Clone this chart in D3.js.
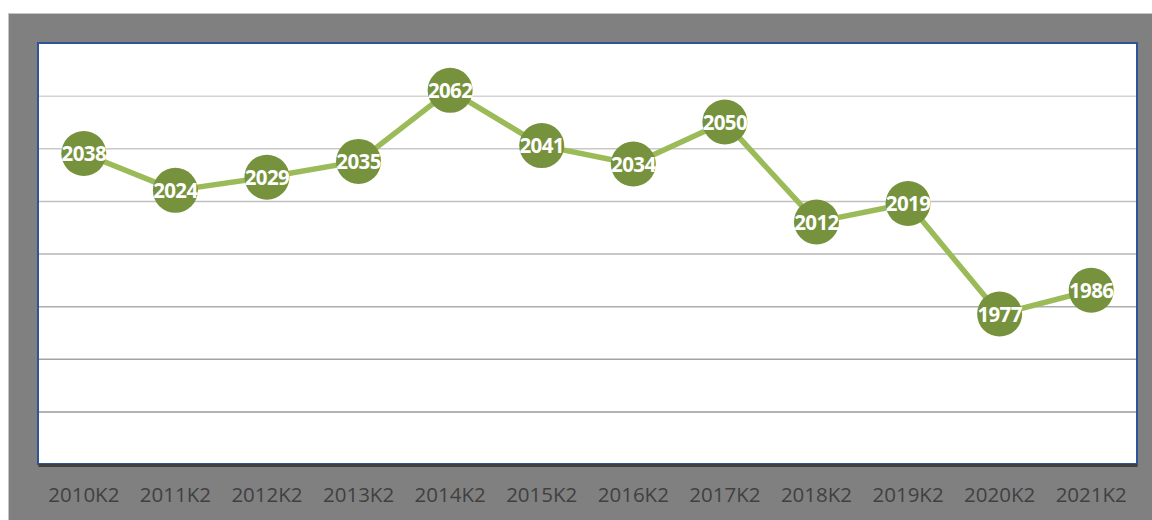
<!DOCTYPE html>
<html>
<head>
<meta charset="utf-8">
<script src="https://cdn.jsdelivr.net/npm/d3@7"></script>
<style>
  body { margin: 0; background: #ffffff; }
  svg { display: block; }
</style>
</head>
<body>
<div id="chart"></div>
<script>
// data
var periods = ["2010K2", "2011K2", "2012K2", "2013K2", "2014K2", "2015K2", "2016K2", "2017K2", "2018K2", "2019K2", "2020K2", "2021K2"];
var values = [2038, 2024, 2029, 2035, 2062, 2041, 2034, 2050, 2012, 2019, 1977, 1986];
var yTicks = [1920, 1940, 1960, 1980, 2000, 2020, 2040, 2060, 2080];

var width = 1152, height = 520;
var plot = { left: 38, top: 43, right: 1137, bottom: 464 };

var svg = d3.select("#chart").append("svg")
    .attr("width", width)
    .attr("height", height);

// gray frame
svg.append("rect")
    .attr("x", 8.5).attr("y", 13.5)
    .attr("width", width).attr("height", height)
    .style("fill", "#808080")
    .style("stroke", "#c4c4c4")
    .style("stroke-width", 1);

var xScale = d3.scaleBand()
    .domain(periods)
    .range([plot.left, plot.right]);

var yScale = d3.scaleLinear()
    .domain([1920, 2080])
    .range([plot.bottom, plot.top]);

// plot area
svg.append("rect")
    .attr("x", plot.left).attr("y", plot.top)
    .attr("width", plot.right - plot.left)
    .attr("height", plot.bottom - plot.top)
    .style("fill", "#ffffff")
    .style("stroke", "#2F5597")
    .style("stroke-width", 2);

// gridlines, lighter at top, darker near the bottom
var gridColor = d3.scaleLinear().domain([2080, 1940]).range(["#dcdcdc", "#9a9a9a"]);
var yAxis = d3.axisLeft(yScale).tickValues(yTicks.slice(1, -1)).tickSize(-(plot.right - plot.left - 2)).tickFormat("");
var grid = svg.append("g")
    .attr("transform", "translate(" + (plot.left + 1) + ",0)")
    .call(yAxis);
grid.select(".domain").remove();
grid.selectAll(".tick line")
    .style("stroke", function (d) { return gridColor(d); })
    .style("stroke-width", 1.5);

// bottom axis
var xAxis = d3.axisBottom(xScale).tickSize(0).tickPadding(22);
var xAxisGroup = svg.append("g")
    .attr("transform", "translate(0," + (plot.bottom + 1) + ")")
    .call(xAxis);
xAxisGroup.select(".domain")
    .style("stroke", "#404040")
    .style("stroke-width", 3);
xAxisGroup.selectAll("text")
    .style("fill", "#404040")
    .style("font-family", "'Open Sans', sans-serif")
    .style("font-size", "20.5px");

// line
var line = d3.line()
    .x(function (d, i) { return xScale(periods[i]) + xScale.bandwidth() / 2; })
    .y(function (d) { return yScale(d); });

svg.append("path")
    .datum(values)
    .attr("d", line)
    .style("fill", "none")
    .style("stroke", "#9BBB59")
    .style("stroke-width", 5.5)
    .style("stroke-linejoin", "round");

// markers
var points = svg.append("g").selectAll("g")
    .data(values)
    .join("g")
    .attr("transform", function (d, i) {
        return "translate(" + (xScale(periods[i]) + xScale.bandwidth() / 2) + "," + yScale(d) + ")";
    });

points.append("circle")
    .attr("r", 22.5)
    .style("fill", "#76923C");

points.append("text")
    .attr("text-anchor", "middle")
    .attr("dy", "0.38em")
    .style("fill", "#ffffff")
    .style("font-family", "'Open Sans', sans-serif")
    .style("font-weight", "bold")
    .style("font-size", "20.5px")
    .style("letter-spacing", "-0.6px")
    .text(function (d) { return d; });
</script>
</body>
</html>
